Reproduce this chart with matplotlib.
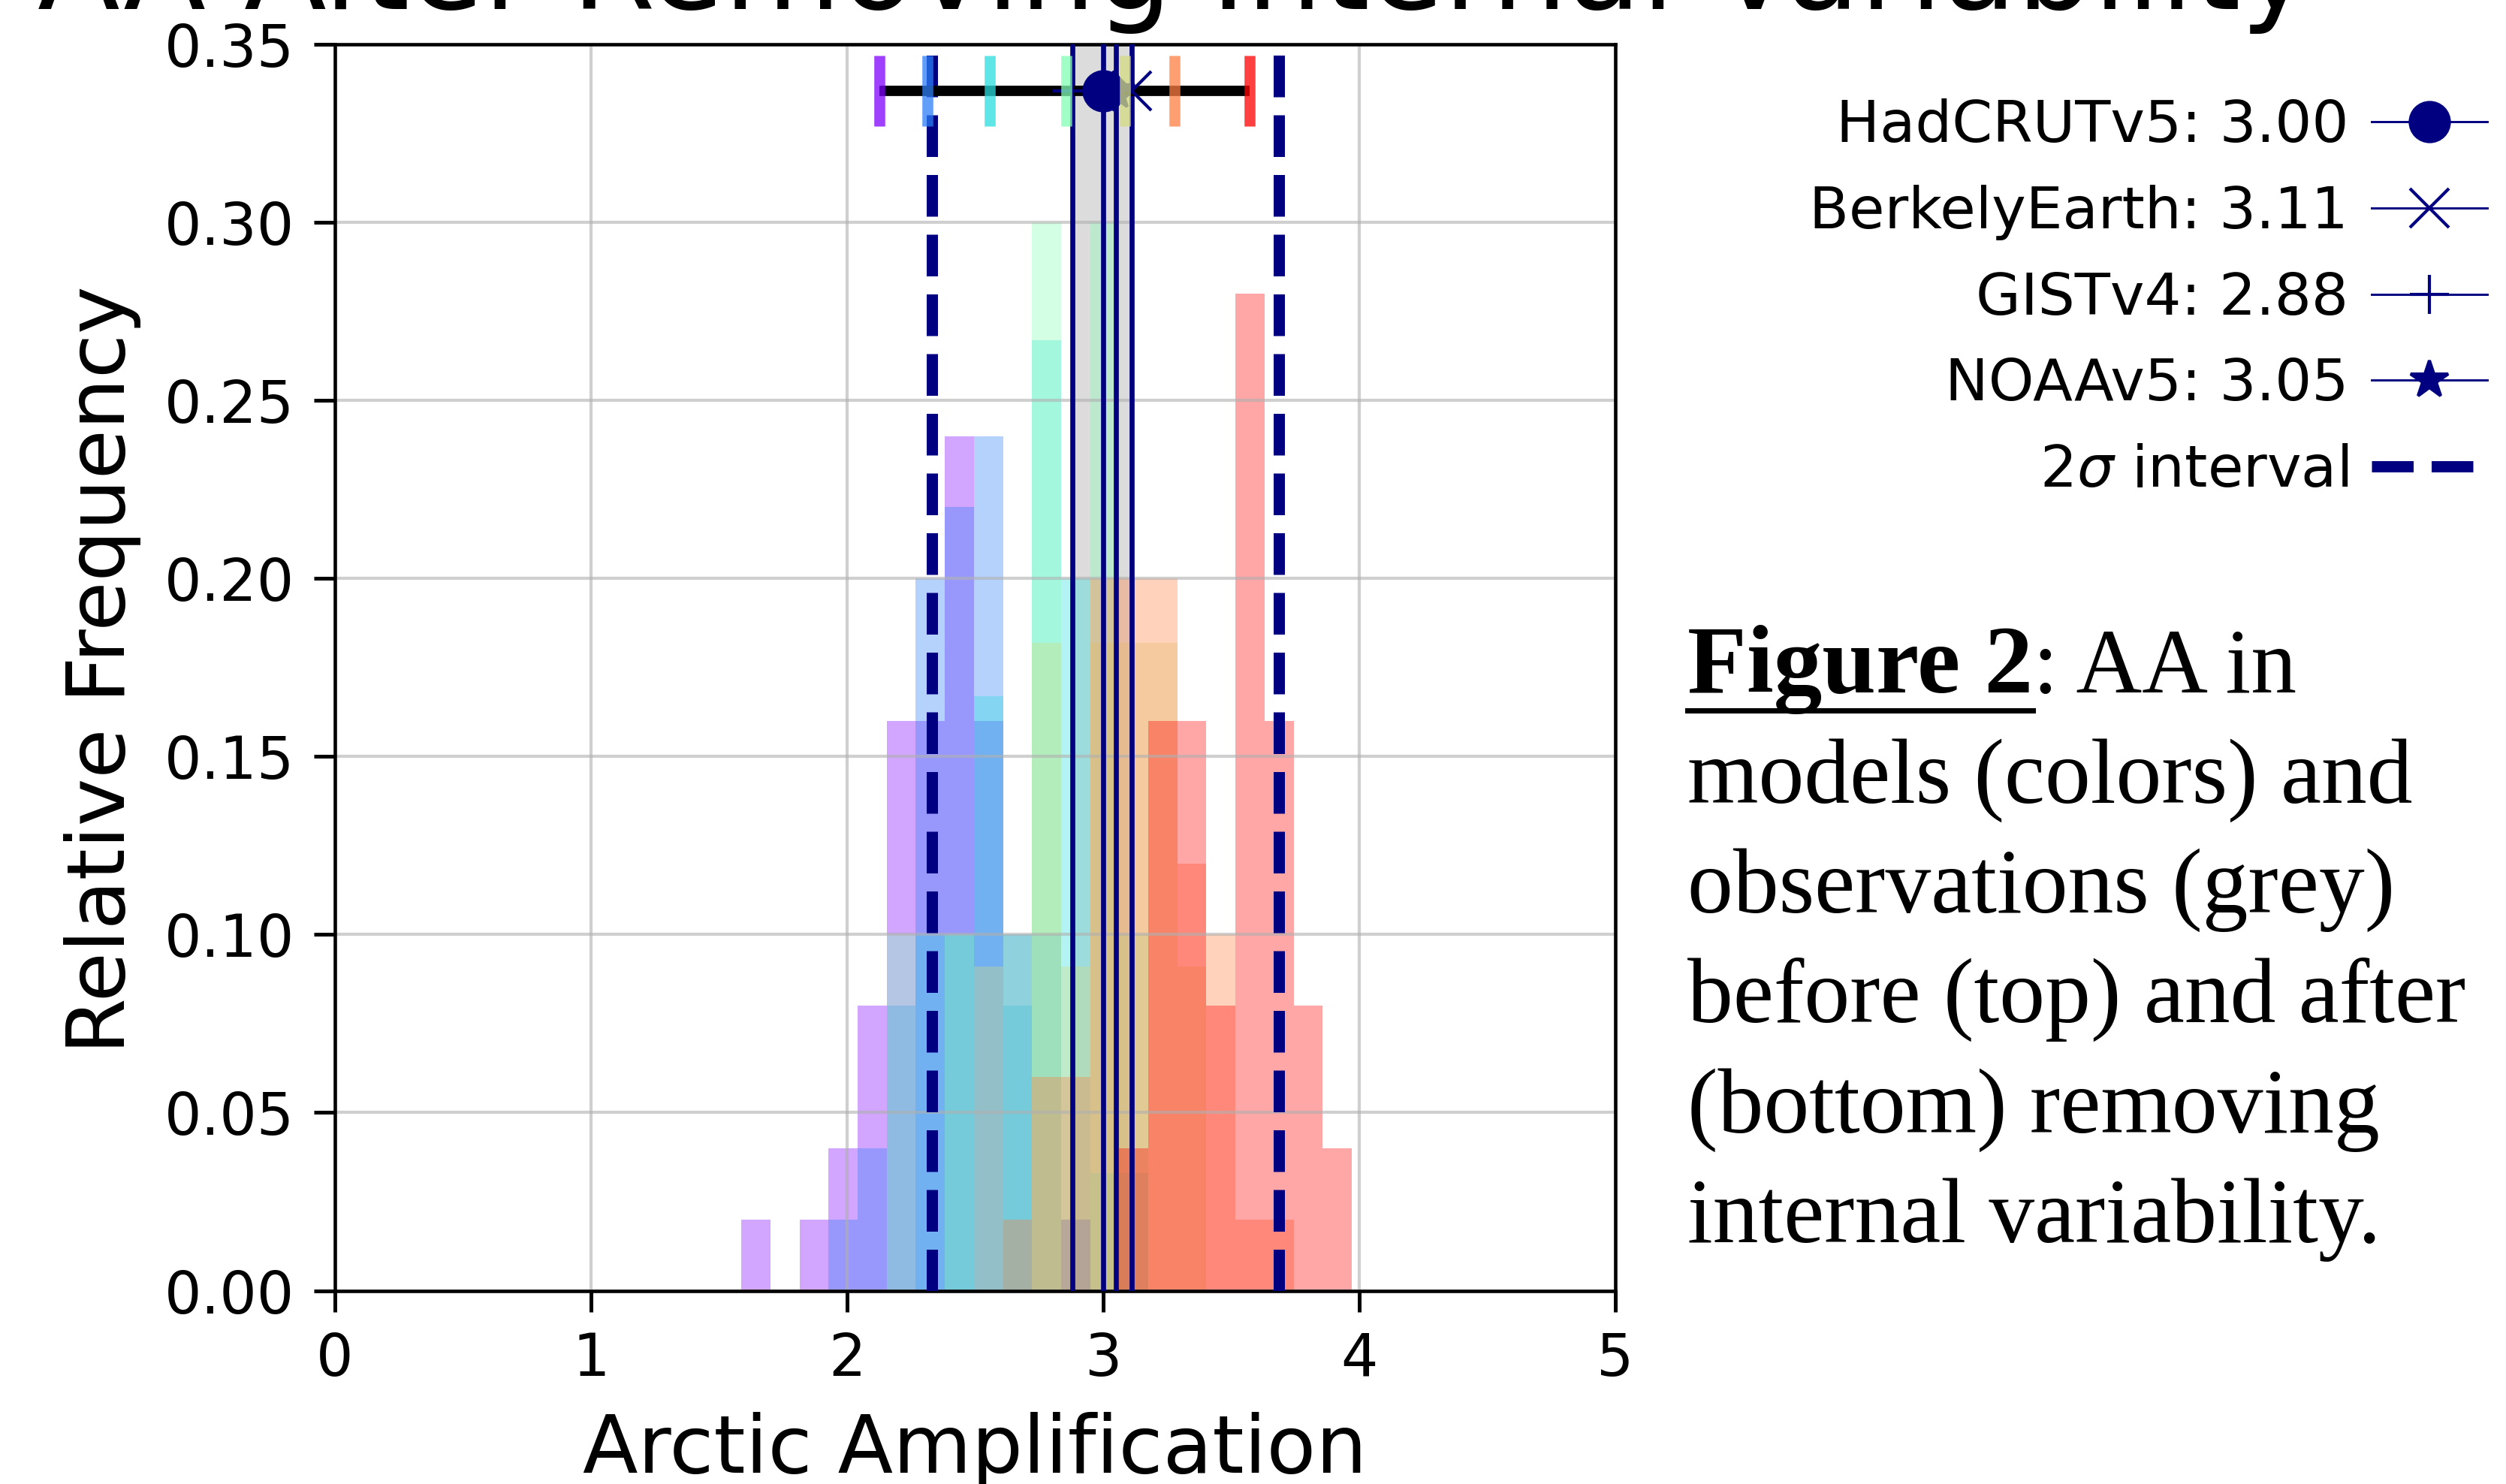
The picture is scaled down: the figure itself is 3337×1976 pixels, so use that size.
import numpy as np
import matplotlib
matplotlib.use("Agg")
import matplotlib.pyplot as plt
from matplotlib.lines import Line2D
from matplotlib.ticker import FormatStrFormatter

# ---------------- data ----------------
bin_edges = [1.587, 1.701, 1.814, 1.928, 2.041, 2.155, 2.268, 2.382, 2.495, 2.609,
             2.722, 2.836, 2.949, 3.063, 3.176, 3.290, 3.403, 3.517, 3.630, 3.744,
             3.857, 3.971]

purple = [0.02, 0.00, 0.02, 0.04, 0.08, 0.16, 0.16, 0.24, 0.16, 0.10, 0.00,
          0.02, 0.00, 0.00, 0.00, 0.00, 0.00, 0.00, 0.00, 0.00, 0.00]
blue   = [0.00, 0.00, 0.00, 0.02, 0.04, 0.08, 0.20, 0.22, 0.24, 0.08, 0.10,
          0.02, 0.00, 0.00, 0.00, 0.00, 0.00, 0.00, 0.00, 0.00, 0.00]
cyan   = [0.00, 0.00, 0.00, 0.00, 0.00, 0.00, 0.100, 0.100, 0.167, 0.100, 0.267,
          0.200, 0.033, 0.033, 0.00, 0.00, 0.00, 0.00, 0.00, 0.00, 0.00]
green  = [0.00, 0.00, 0.00, 0.00, 0.00, 0.10, 0.00, 0.10, 0.00, 0.10, 0.30,
          0.00, 0.30, 0.10, 0.00, 0.00, 0.00, 0.00, 0.00, 0.00, 0.00]
olive  = [0.00, 0.00, 0.00, 0.00, 0.00, 0.00, 0.00, 0.00, 0.091, 0.00, 0.182,
          0.091, 0.182, 0.182, 0.182, 0.091, 0.00, 0.00, 0.00, 0.00, 0.00]
orange = [0.00, 0.00, 0.00, 0.00, 0.00, 0.00, 0.00, 0.00, 0.00, 0.02, 0.06,
          0.06, 0.20, 0.20, 0.20, 0.12, 0.10, 0.02, 0.02, 0.00, 0.00]
red    = [0.00, 0.00, 0.00, 0.00, 0.00, 0.00, 0.00, 0.00, 0.00, 0.00, 0.00,
          0.00, 0.00, 0.04, 0.16, 0.16, 0.08, 0.28, 0.16, 0.08, 0.04]
model_hists = [purple, blue, cyan, green, olive, orange, red]

model_centres = [2.127, 2.314, 2.556, 2.857, 3.084, 3.280, 3.571]
summary_y = 0.3369

obs_names = ["HadCRUTv5", "BerkelyEarth", "GISTv4", "NOAAv5"]
obs_values = [3.00, 3.11, 2.88, 3.05]
obs_markers = ["o", "x", "+", "*"]
sigma_bounds = [2.331, 3.685]

x_ticks = [0, 1, 2, 3, 4, 5]
y_ticks = [0.00, 0.05, 0.10, 0.15, 0.20, 0.25, 0.30, 0.35]

title_text = "AA After Removing Internal Variability"
caption_bold = "Figure 2"
caption_first_rest = ": AA in"
caption_lines = ["models (colors) and", "observations (grey)",
                 "before (top) and after", "(bottom) removing",
                 "internal variability."]

# ---------------- figure ----------------
W, H, DPI = 3337, 1976, 300
plt.rcParams["font.family"] = ["DejaVu Sans"]
fig = plt.figure(figsize=(W / DPI, H / DPI), dpi=DPI)
ax = fig.add_axes([446 / W, 1 - 1718.5 / H, (2151 - 446) / W, (1718.5 - 59) / H])

colors = plt.cm.rainbow(np.linspace(0, 1, len(model_hists)))

# observation range shading
ax.axvspan(min(obs_values), max(obs_values), color="gray", alpha=0.27, lw=0, zorder=0.5)

# model histograms
for h, c in zip(model_hists, colors):
    ax.stairs(h, bin_edges, fill=True, color=c, alpha=0.35, lw=0, zorder=1)

# observation lines
for v in obs_values:
    ax.axvline(v, color="navy", lw=1.6, zorder=3)
for v in sigma_bounds:
    ax.axvline(v, color="navy", lw=3.6, ls="--", zorder=3)

# summary row at top
ax.hlines(summary_y, min(model_centres), max(model_centres), color="black", lw=3.3, zorder=4)
for v, m in zip(obs_values, obs_markers):
    ax.plot([v], [summary_y], marker=m, color="navy", ms=12.5, ls="none", zorder=5)
for v, c in zip(model_centres, colors):
    ax.plot([v], [summary_y], marker="|", color=c, ms=22.5, mew=3.5, alpha=0.75,
            ls="none", zorder=6)

ax.set_xlim(0, 5)
ax.set_ylim(0, 0.35)
ax.set_xticks(x_ticks)
ax.set_yticks(y_ticks)
ax.yaxis.set_major_formatter(FormatStrFormatter("%.2f"))
ax.grid(True, color="#b0b0b0", alpha=0.6, lw=1.0)
ax.tick_params(labelsize=18.7, length=6.7, width=1.2, pad=6.2)
for s in ax.spines.values():
    s.set_linewidth(1.1)

ax.set_xlabel("Arctic Amplification", fontsize=25.8)
ax.set_ylabel("Relative Frequency", fontsize=25.8)
ax.xaxis.set_label_coords(0.5, -0.0975)
ax.yaxis.set_label_coords(-0.1513, 0.4983)

# title (cut off at top, as in the reference)
fig.text(1564 / W, 1 - 12 / H, title_text, ha="center", va="baseline", fontsize=38.5)

# legend
handles = [Line2D([], [], color="navy", marker=m, ms=12.5, lw=0.7) for m in obs_markers]
handles.append(Line2D([], [], color="navy", lw=3.6, ls="--"))
labels = [f"{n}: {v:.2f}" for n, v in zip(obs_names, obs_values)]
labels.append(r"2$\sigma$ interval")
fig.legend(handles, labels, loc="upper right", bbox_to_anchor=(3343 / W, 1 - 100 / H),
           bbox_transform=fig.transFigure, frameon=False, markerfirst=False,
           fontsize=18.5, handletextpad=0.4, labelspacing=0.53, borderaxespad=0,
           borderpad=0.4, handlelength=2.0)

# caption
serif = ["Liberation Serif", "DejaVu Serif"]
x0 = 2247 / W
base0 = 922
step = 146.4
t_bold = fig.text(x0, 1 - base0 / H, caption_bold, fontsize=31, fontweight="bold",
                  family=serif, va="baseline", ha="left")
fig.canvas.draw()
r = fig.canvas.get_renderer()
bb = t_bold.get_window_extent(r)
fig.text(bb.x1 / W, 1 - base0 / H, caption_first_rest, fontsize=29.2, family=serif,
         va="baseline", ha="left")
ul_y = 1 - (base0 + 24) / H
fig.add_artist(Line2D([bb.x0 / W, bb.x1 / W], [ul_y, ul_y], transform=fig.transFigure,
                      color="black", lw=1.7))
for k, line in enumerate(caption_lines, start=1):
    fig.text(x0, 1 - (base0 + k * step) / H, line, fontsize=29.2, family=serif,
             va="baseline", ha="left")

fig.savefig("out.png", dpi=DPI)
